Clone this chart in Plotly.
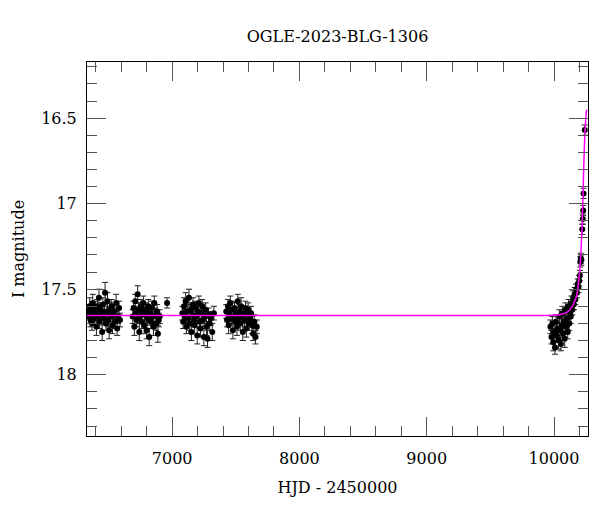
import plotly.graph_objects as go

# ---- data (HJD-2450000, I mag, error) ----
s1_x = [6340, 6345, 6352, 6358, 6363, 6370, 6376, 6381, 6388, 6394, 6400, 6405, 6412, 6418, 6425, 6431,
        6437, 6444, 6450, 6456, 6462, 6468, 6473, 6480, 6486, 6492, 6499, 6505, 6512, 6518, 6525, 6531,
        6538, 6545, 6552, 6560, 6568, 6575, 6583, 6590]
s1_m = [17.63, 17.66, 17.60, 17.68, 17.62, 17.70, 17.58, 17.65, 17.67, 17.61, 17.64, 17.72, 17.60, 17.66,
        17.55, 17.69, 17.62, 17.65, 17.75, 17.59, 17.67, 17.63, 17.52, 17.70, 17.64, 17.57, 17.68, 17.74,
        17.62, 17.66, 17.60, 17.71, 17.65, 17.63, 17.69, 17.58, 17.73, 17.66, 17.61, 17.68]
s1_e = [0.04, 0.04, 0.05, 0.04, 0.03, 0.04, 0.05, 0.04, 0.04, 0.04, 0.03, 0.05, 0.04, 0.04, 0.05, 0.04,
        0.04, 0.03, 0.05, 0.04, 0.04, 0.04, 0.06, 0.04, 0.04, 0.05, 0.04, 0.05, 0.04, 0.03, 0.04, 0.05,
        0.04, 0.04, 0.04, 0.05, 0.04, 0.04, 0.04, 0.04]

s2_x = [6690, 6697, 6703, 6710, 6716, 6722, 6729, 6735, 6742, 6748, 6755, 6761, 6768, 6774, 6781, 6787,
        6794, 6800, 6807, 6813, 6820, 6826, 6833, 6840, 6846, 6853, 6860, 6867, 6874, 6881, 6888, 6895,
        6902, 6960]
s2_m = [17.66, 17.61, 17.72, 17.57, 17.64, 17.68, 17.53, 17.62, 17.75, 17.66, 17.60, 17.69, 17.63, 17.58,
        17.71, 17.65, 17.62, 17.74, 17.67, 17.60, 17.78, 17.64, 17.69, 17.61, 17.66, 17.72, 17.58, 17.65,
        17.70, 17.63, 17.76, 17.68, 17.66, 17.58]
s2_e = [0.04, 0.04, 0.05, 0.04, 0.04, 0.04, 0.05, 0.04, 0.05, 0.04, 0.04, 0.04, 0.03, 0.04, 0.05, 0.04,
        0.04, 0.05, 0.04, 0.04, 0.05, 0.04, 0.04, 0.04, 0.03, 0.05, 0.04, 0.04, 0.04, 0.04, 0.05, 0.04,
        0.04, 0.03]

s3_x = [7080, 7086, 7093, 7099, 7106, 7112, 7119, 7125, 7132, 7138, 7145, 7151, 7158, 7164, 7171, 7177,
        7184, 7190, 7197, 7203, 7210, 7216, 7223, 7229, 7236, 7242, 7249, 7256, 7263, 7270, 7278, 7286,
        7295, 7305, 7315, 7328]
s3_m = [17.64, 17.69, 17.60, 17.66, 17.57, 17.72, 17.63, 17.67, 17.55, 17.70, 17.62, 17.75, 17.65, 17.59,
        17.68, 17.71, 17.61, 17.66, 17.77, 17.63, 17.58, 17.69, 17.73, 17.64, 17.60, 17.68, 17.78, 17.66,
        17.62, 17.72, 17.79, 17.65, 17.70, 17.67, 17.75, 17.64]
s3_e = [0.04, 0.04, 0.05, 0.04, 0.05, 0.04, 0.04, 0.04, 0.05, 0.04, 0.04, 0.05, 0.04, 0.04, 0.04, 0.05,
        0.04, 0.04, 0.05, 0.04, 0.04, 0.04, 0.05, 0.04, 0.04, 0.04, 0.05, 0.04, 0.04, 0.05, 0.05, 0.04,
        0.04, 0.04, 0.05, 0.04]

s4_x = [7425, 7431, 7438, 7444, 7451, 7457, 7464, 7470, 7477, 7483, 7490, 7496, 7503, 7509, 7516, 7522,
        7529, 7535, 7542, 7548, 7555, 7562, 7569, 7576, 7583, 7590, 7597, 7604, 7612, 7620, 7628, 7636,
        7645, 7655, 7665]
s4_m = [17.63, 17.68, 17.60, 17.71, 17.65, 17.58, 17.67, 17.62, 17.74, 17.66, 17.61, 17.69, 17.64, 17.72,
        17.57, 17.67, 17.63, 17.70, 17.60, 17.66, 17.75, 17.64, 17.68, 17.61, 17.73, 17.65, 17.62, 17.70,
        17.67, 17.64, 17.71, 17.76, 17.69, 17.78, 17.72]
s4_e = [0.04, 0.04, 0.04, 0.05, 0.04, 0.04, 0.04, 0.04, 0.05, 0.04, 0.04, 0.04, 0.03, 0.05, 0.04, 0.04,
        0.04, 0.04, 0.05, 0.04, 0.05, 0.04, 0.04, 0.04, 0.05, 0.04, 0.04, 0.04, 0.04, 0.04, 0.05, 0.04,
        0.04, 0.04, 0.04]

s5_x = [9972, 9980, 9987, 9994, 10001, 10008, 10015, 10022, 10029, 10036, 10042, 10048, 10054, 10060,
        10066, 10072, 10078, 10084, 10090, 10096, 10102, 10108, 10114, 10120, 10126, 10132, 10138, 10144,
        10150, 10156, 10162, 10168, 10174, 10180, 10186, 10192, 10198, 10203, 10207, 10210, 10215, 10222,
        10226, 10229, 10232, 10242]
s5_m = [17.72, 17.78, 17.70, 17.81, 17.75, 17.84, 17.69, 17.77, 17.73, 17.80, 17.66, 17.74, 17.82, 17.71,
        17.64, 17.76, 17.69, 17.79, 17.62, 17.72, 17.67, 17.75, 17.60, 17.70, 17.64, 17.66, 17.58, 17.62,
        17.55, 17.59, 17.53, 17.56, 17.50, 17.52, 17.47, 17.49, 17.45, 17.42, 17.34, 17.32, 17.33, 17.15,
        17.09, 17.04, 16.94, 16.57]
s5_e = [0.04, 0.04, 0.04, 0.05, 0.04, 0.04, 0.04, 0.04, 0.04, 0.05, 0.04, 0.04, 0.04, 0.04, 0.04, 0.04,
        0.04, 0.05, 0.04, 0.04, 0.04, 0.04, 0.04, 0.04, 0.03, 0.04, 0.04, 0.03, 0.04, 0.03, 0.04, 0.03,
        0.03, 0.03, 0.03, 0.03, 0.03, 0.03, 0.03, 0.03, 0.03, 0.03, 0.03, 0.03, 0.03, 0.03]

model_x = [6331, 9900, 9980, 10050, 10100, 10130, 10160, 10180, 10194, 10207, 10218, 10226, 10233,
           10241, 10248, 10254, 10257]
model_m = [17.654, 17.654, 17.652, 17.648, 17.635, 17.615, 17.575, 17.53, 17.45, 17.34, 17.18, 17.00,
           16.80, 16.62, 16.52, 16.46, 16.45]

all_x = s1_x + s2_x + s3_x + s4_x + s5_x
all_m = s1_m + s2_m + s3_m + s4_m + s5_m
all_e = s1_e + s2_e + s3_e + s4_e + s5_e

FONT = "DejaVu Serif"

fig = go.Figure()
fig.add_trace(go.Scatter(
    x=all_x, y=all_m, mode="markers",
    marker=dict(color="black", size=6),
    error_y=dict(type="data", array=all_e, visible=True, color="#222", thickness=1, width=3),
    showlegend=False,
))
fig.add_trace(go.Scatter(
    x=model_x, y=model_m, mode="lines",
    line=dict(color="#ff00ff", width=1.5, shape="spline", smoothing=0.6),
    showlegend=False,
))

axis_common = dict(
    showgrid=False, zeroline=False, showline=True, linecolor="black", linewidth=1,
    mirror="ticks", ticks="inside", tickcolor="#555", tickwidth=1, automargin=False,
    tickfont=dict(family=FONT, size=16, color="black"),
)
fig.update_xaxes(
    **axis_common, range=[6331, 10267], tickmode="linear", tick0=0, dtick=1000, ticklen=19,
    tickformat="d", ticklabelstandoff=8,
    minor=dict(ticks="inside", ticklen=10, dtick=200, tick0=0, tickcolor="#555", showgrid=False),
    title=dict(text="HJD - 2450000", font=dict(family=FONT, size=16, color="black"), standoff=14),
)
fig.update_yaxes(
    **axis_common, range=[18.358, 16.172], tickmode="array",
    tickvals=[16.5, 17, 17.5, 18], ticktext=["16.5", "17", "17.5", "18"], ticklen=19,
    ticklabelstandoff=6,
    minor=dict(ticks="inside", ticklen=10, tickvals=[16.2, 16.3, 16.4, 16.6, 16.7, 16.8, 16.9, 17.1, 17.2,
                                                      17.3, 17.4, 17.6, 17.7, 17.8, 17.9, 18.1, 18.2, 18.3],
               tickcolor="#555", showgrid=False),
    title=dict(text="I magnitude", font=dict(family=FONT, size=16, color="black"), standoff=12),
)
fig.update_layout(
    width=600, height=512,
    margin=dict(l=87, r=12, t=62, b=76),
    paper_bgcolor="white", plot_bgcolor="white",
    title=dict(text="OGLE-2023-BLG-1306", x=0.5625, xanchor="center", y=1 - 36 / 512, yanchor="middle",
               yref="container", font=dict(family=FONT, size=16, color="black")),
)
fig.write_html("out.html", config={"displayModeBar": False},
               post_script="document.body.style.margin='0px';")
